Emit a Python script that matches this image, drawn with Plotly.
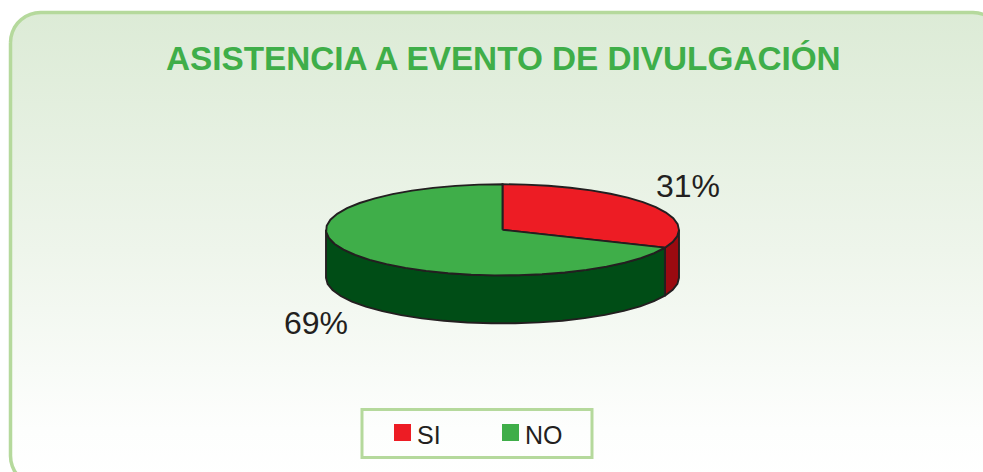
import numpy as np
import plotly.graph_objects as go

# --- data ---
categories = ["SI", "NO"]
values = [31.4, 68.6]
title = "ASISTENCIA A EVENTO DE DIVULGACIÓN"

W, H = 983, 472
RED, DRED = "#ed1c24", "#9b0a10"
GREEN, DGREEN = "#3fae49", "#004d16"
INK = "#231f20"
BORDER = "#b5d99c"
CX, CY, RX, RY, DEPTH = 502.5, 229.8, 176.5, 45.6, 48


def rim(a0, a1):
    """Points on the top ellipse; angle in degrees clockwise from 12 o'clock."""
    n = max(2, int(abs(a1 - a0) / 7.5) + 1)
    t = np.radians(np.linspace(a0, a1, n))
    return CX + RX * np.sin(t), CY - RY * np.cos(t)


def rounded(x0, y0, x1, y1, r, n=10):
    t = np.linspace(0, np.pi / 2, n)
    xs = np.concatenate([x0 + r - r * np.cos(t), x1 - r + r * np.sin(t),
                         x1 - r + r * np.cos(t), x0 + r - r * np.sin(t)])
    ys = np.concatenate([y0 + r - r * np.sin(t), y0 + r - r * np.cos(t),
                         y1 - r + r * np.sin(t), y1 - r + r * np.cos(t)])
    return np.append(xs, xs[0]), np.append(ys, ys[0])


fig = go.Figure()

# rounded panel with vertical gradient
px, py = rounded(10.5, 12.5, 1003, 486, 30)
fig.add_trace(go.Scatter(
    x=px, y=py, mode="lines", fill="toself", hoverinfo="skip",
    line=dict(color=BORDER, width=3.5),
    fillgradient=dict(type="vertical", colorscale=[
        [0, "#ffffff"], [0.12, "#fdfefd"], [0.5, "#eef5eb"], [1, "#dcebd6"]]),
))


def poly(x, y, fill, width=1.9):
    fig.add_trace(go.Scatter(x=x, y=y, mode="lines", fill="toself", fillcolor=fill,
                             hoverinfo="skip", line=dict(color=INK, width=width)))


# slice angles come from the values
total = sum(values)
split = 360 * values[0] / total

# side walls (front half only)
for a0, a1, col in [(90, split, DRED), (split, 270, DGREEN)]:
    x, y = rim(a0, a1)
    poly(np.concatenate([x, x[::-1], x[:1]]),
         np.concatenate([y, y[::-1] + DEPTH, y[:1]]), col)

# top faces
for a0, a1, col in [(0, split, RED), (split, 360, GREEN)]:
    x, y = rim(a0, a1)
    poly(np.concatenate([[CX], x, [CX]]), np.concatenate([[CY], y, [CY]]), col)

# legend box
fig.add_shape(type="rect", x0=362, y0=409.5, x1=592, y1=457.5,
              line=dict(color=BORDER, width=3), fillcolor="rgba(0,0,0,0)")

# legend swatches
fig.add_trace(go.Scatter(x=[402.5], y=[432.5], mode="markers", hoverinfo="skip",
                         marker=dict(symbol="square", size=17, color=RED, line_width=0)))
fig.add_trace(go.Scatter(x=[510.5], y=[432.5], mode="markers", hoverinfo="skip",
                         marker=dict(symbol="square", size=17, color=GREEN, line_width=0)))

FONT = "Liberation Sans"
ann = [
    dict(x=503, y=58, text=f"<b>{title}</b>", size=33.3, color=GREEN, xanchor="center"),
    dict(x=688, y=185.5, text=f"{round(values[0])}%", size=32, color=INK, xanchor="center"),
    dict(x=315.5, y=322.5, text=f"{round(values[1])}%", size=32, color=INK, xanchor="center"),
    dict(x=417, y=434.5, text=categories[0], size=25, color=INK, xanchor="left"),
    dict(x=525, y=434.5, text=categories[1], size=25, color=INK, xanchor="left"),
]
for a in ann:
    fig.add_annotation(x=a["x"], y=a["y"], text=a["text"], showarrow=False, xanchor=a["xanchor"],
                       yanchor="middle", borderpad=0, borderwidth=0,
                       font=dict(family=FONT, size=a["size"], color=a["color"]))

fig.update_layout(
    width=W, height=H, margin=dict(l=0, r=0, t=0, b=0), showlegend=False,
    paper_bgcolor="white", plot_bgcolor="white",
    xaxis=dict(range=[0, W], visible=False, fixedrange=True),
    yaxis=dict(range=[H, 0], visible=False, fixedrange=True),
)
fig.write_html("out.html", config={"displayModeBar": False},
               post_script="document.body.style.margin='0';")
